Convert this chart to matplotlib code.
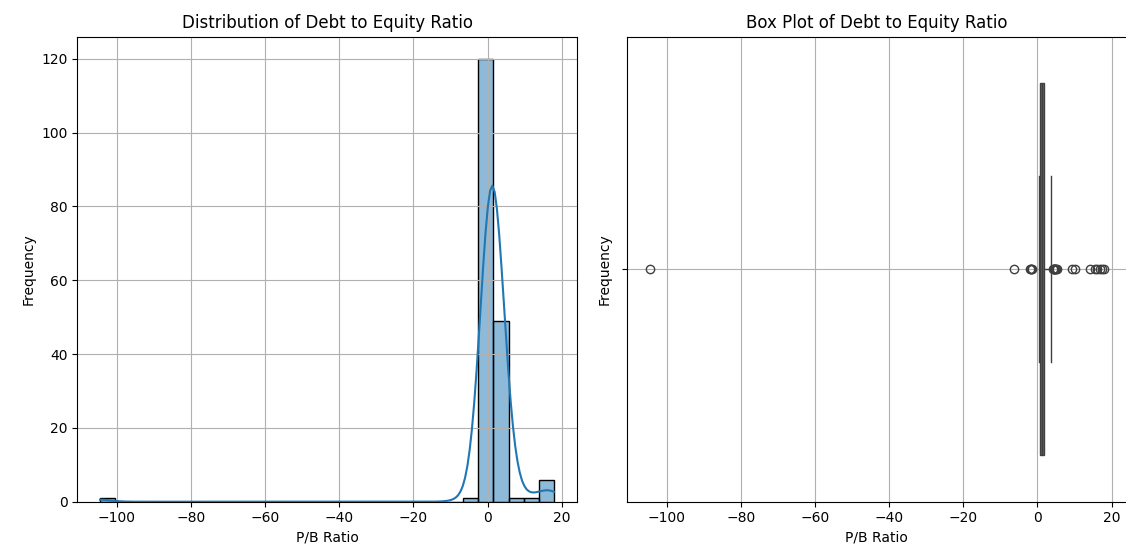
import numpy as np
import matplotlib
matplotlib.use("Agg")
import matplotlib.pyplot as plt
import seaborn as sns

# values (value, how many times it occurs)
far_values = [-104.5, -6.4, -2.0, -1.8, -1.7, -1.6]
far_counts = [1, 1, 1, 1, 1, 1]

core_values = [0.3, 0.4, 0.5, 0.6, 0.7, 0.8, 0.9, 1.0, 1.1, 1.2, 1.3, 1.4]
core_counts = [3, 8, 12, 18, 8, 10, 10, 10, 10, 9, 9, 9]

upper_values = [1.6, 1.7, 1.8, 1.9, 2.0, 2.2, 2.4, 2.6, 2.8, 3.0, 3.2, 3.4, 3.65,
                4.3, 4.4, 4.5, 4.6, 4.7, 4.8, 5.0, 5.2]
upper_counts = [5, 4, 3, 4, 4, 4, 3, 3, 3, 3, 2, 2, 1,
                1, 1, 1, 1, 1, 1, 1, 1]

tail_values = [9.3, 10.0, 14.2, 15.5, 16.0, 16.8, 17.3, 17.9]
tail_counts = [1, 1, 1, 1, 1, 1, 1, 1]

debt_to_equity = np.concatenate([
    np.repeat(far_values, far_counts),
    np.repeat(core_values, core_counts),
    np.repeat(upper_values, upper_counts),
    np.repeat(tail_values, tail_counts),
])

fig = plt.figure(figsize=(11.26, 5.51), dpi=100)
W, H = 1126, 551
ax1 = fig.add_axes([77.3 / W, 1 - 501.7 / H, (576.7 - 77.3) / W, (501.7 - 36.7) / H])
ax2 = fig.add_axes([627.3 / W, 1 - 501.7 / H, (1126.5 - 627.3) / W, (501.7 - 36.7) / H])

sns.histplot(debt_to_equity, bins=30, kde=True, ax=ax1)
ax1.set_title("Distribution of Debt to Equity Ratio")
ax1.set_xlabel("P/B Ratio")
ax1.set_ylabel("Frequency")
ax1.grid(True)

sns.boxplot(x=debt_to_equity, ax=ax2)
ax2.set_title("Box Plot of Debt to Equity Ratio")
ax2.set_xlabel("P/B Ratio")
ax2.set_ylabel("Frequency")
ax2.grid(True)

fig.savefig("out.png", dpi=100)
